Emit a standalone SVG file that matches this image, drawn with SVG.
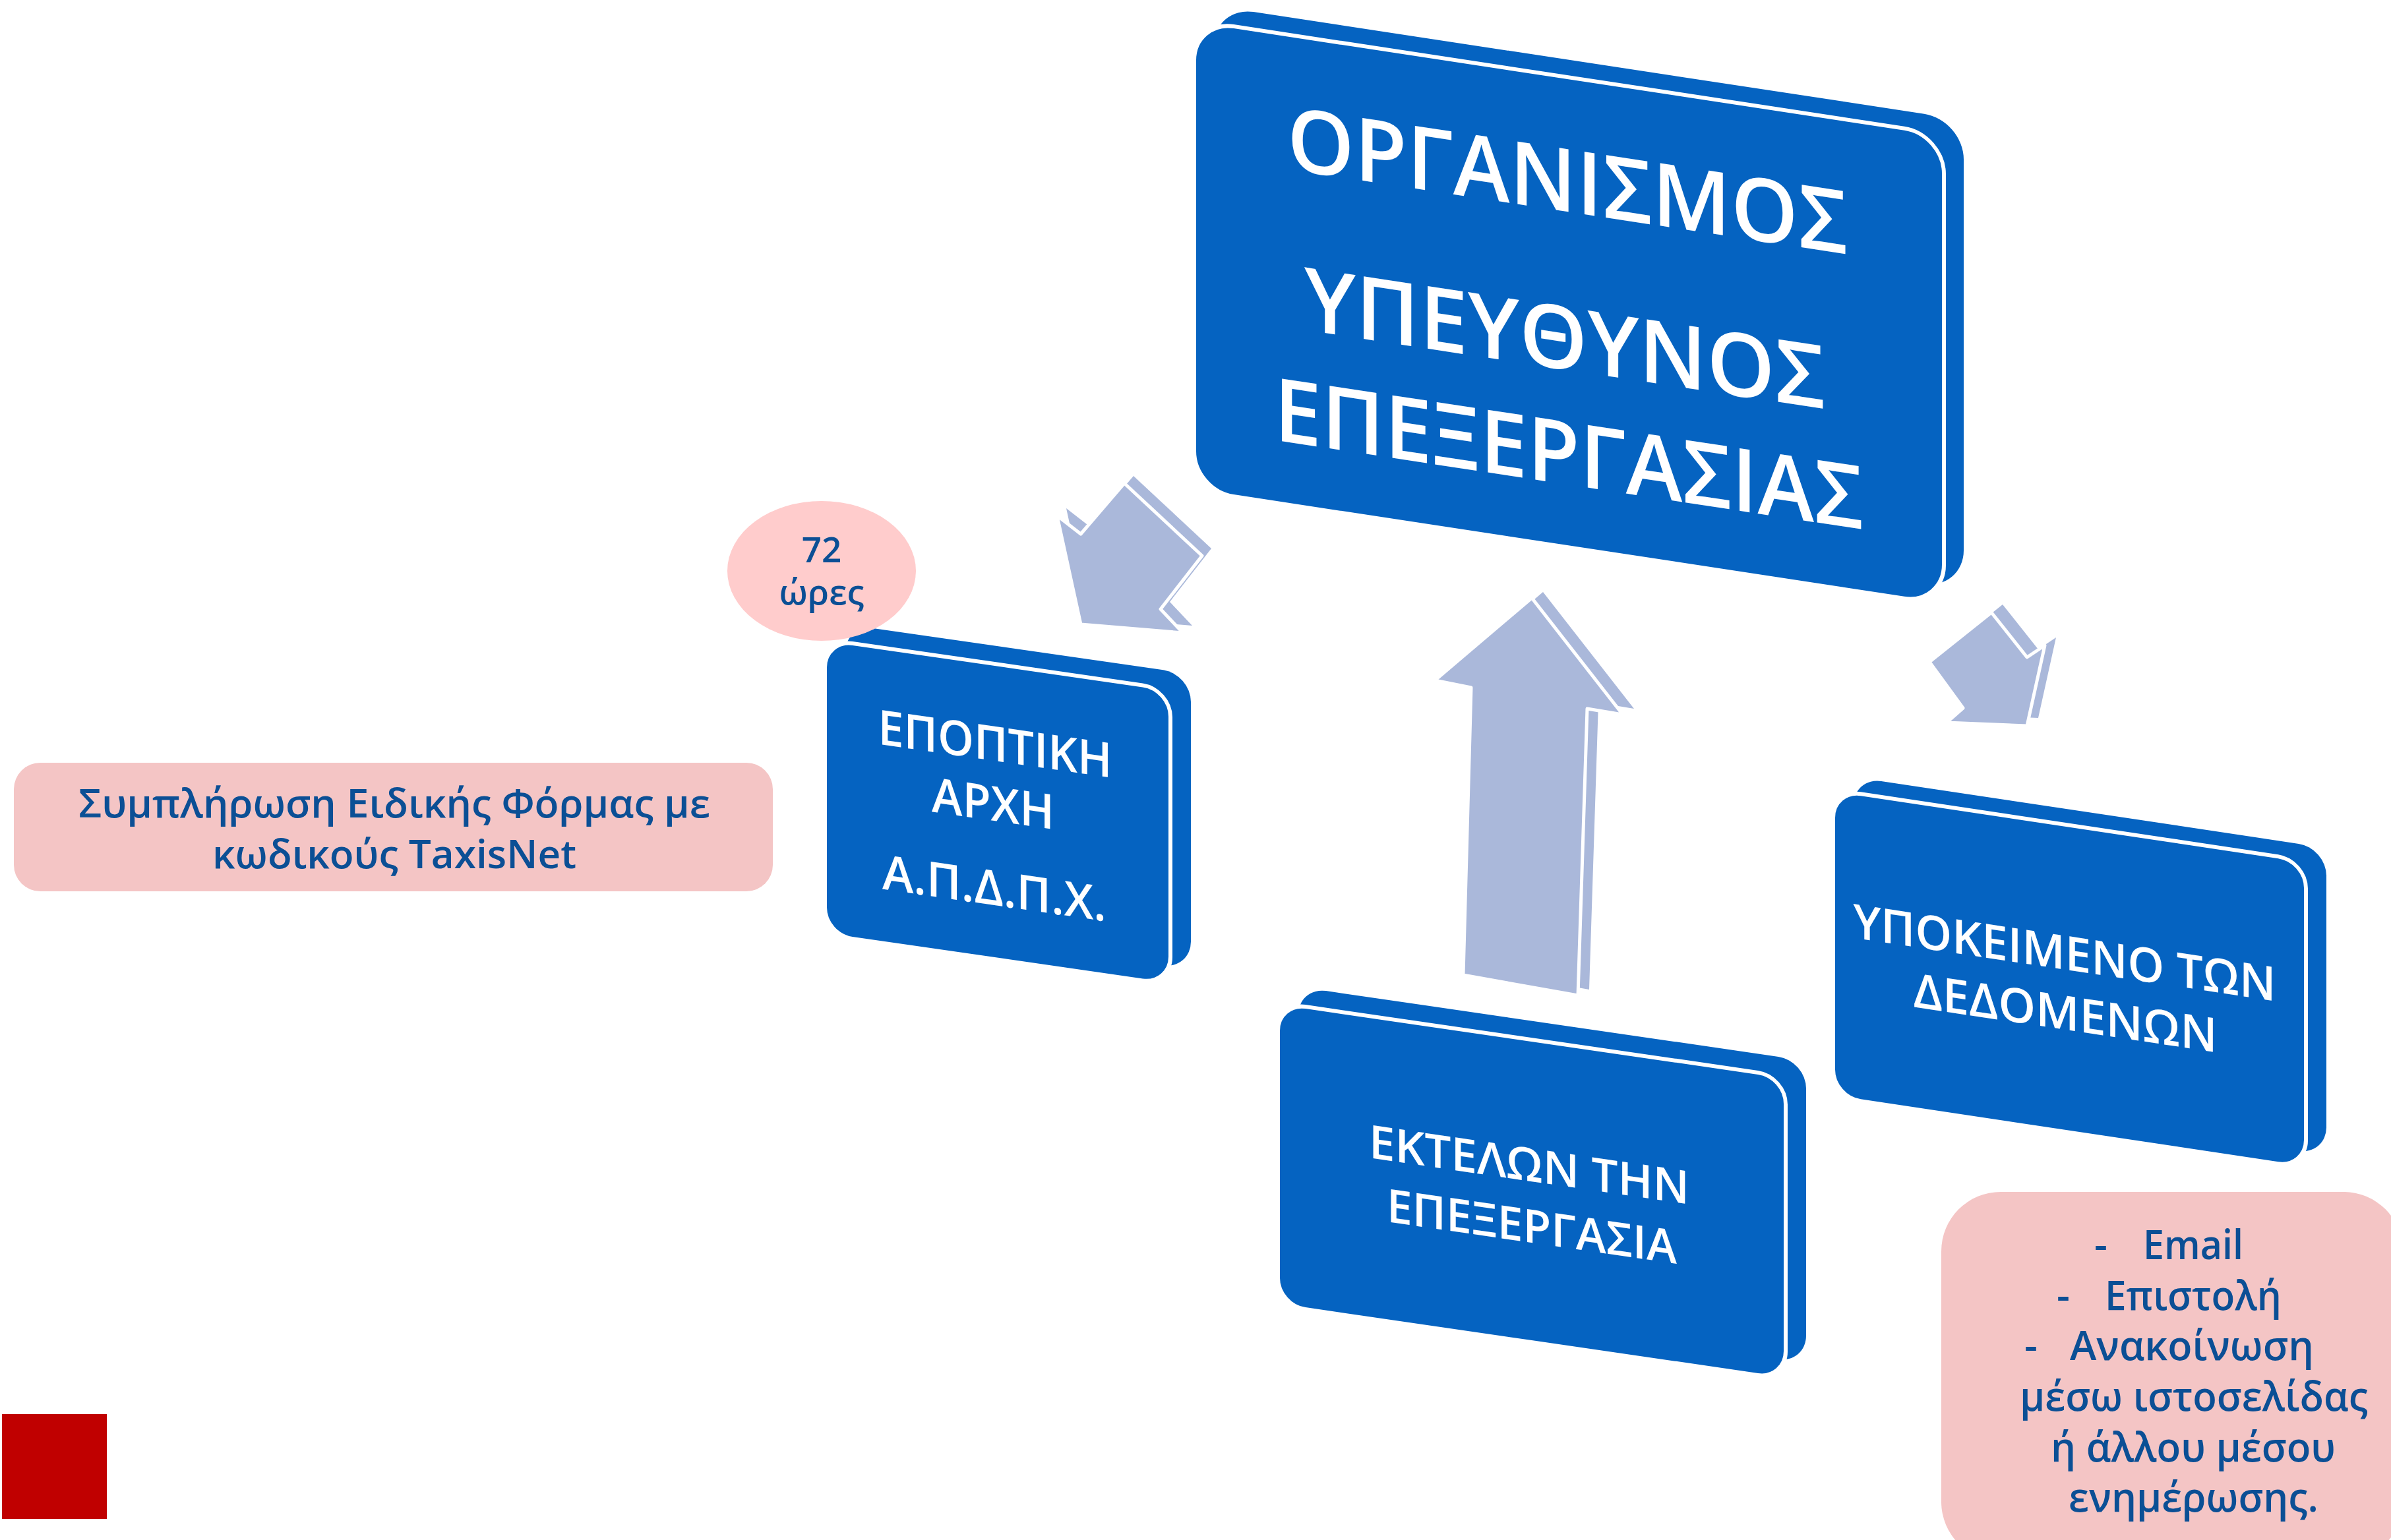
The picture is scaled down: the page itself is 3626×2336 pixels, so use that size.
<svg xmlns="http://www.w3.org/2000/svg" width="3626" height="2336" viewBox="0 0 3626 2336">
<style>
.slab{fill:#0563C1}
.face{fill:#0563C1;stroke:#ffffff;stroke-width:6}
.lbl{font-family:"Open Sans","Noto Sans",sans-serif;fill:#ffffff;text-anchor:middle;font-weight:600}
.ar{fill:#AAB8DA}
.arf{fill:#AAB8DA;stroke:#ffffff;stroke-width:5;stroke-linejoin:round}
.note{font-family:"Open Sans","Noto Sans",sans-serif;fill:#0B4F95;font-weight:600}
.mid{text-anchor:middle}
</style>
<rect width="3626" height="2336" fill="#ffffff"/>

<g id="organismos" transform="matrix(1,0.152,0,1,1811,31)">
  <rect class="slab" x="30" y="-26.6" width="1137" height="713" rx="60"/>
  <rect class="face" x="0" y="0" width="1137" height="713" rx="60"/>
  <text class="lbl" font-size="133" x="566" y="204" textLength="850" lengthAdjust="spacingAndGlyphs">ΟΡΓΑΝΙΣΜΟΣ</text>
  <text class="lbl" font-size="133" x="562" y="444" textLength="790" lengthAdjust="spacingAndGlyphs">ΥΠΕΥΘΥΝΟΣ</text>
  <text class="lbl" font-size="133" x="568" y="618" textLength="894" lengthAdjust="spacingAndGlyphs">ΕΠΕΞΕΡΓΑΣΙΑΣ</text>
</g>

<g id="epoptiki" transform="matrix(1,0.144,0,1,1251,970)">
  <rect class="slab" x="31" y="-27.5" width="524" height="448" rx="42"/>
  <rect class="face" x="0" y="0" width="524" height="448" rx="42"/>
  <text class="lbl" font-size="73" x="258" y="147" textLength="355" lengthAdjust="spacingAndGlyphs">ΕΠΟΠΤΙΚΗ</text>
  <text class="lbl" font-size="73" x="255" y="238" textLength="186" lengthAdjust="spacingAndGlyphs">ΑΡΧΗ</text>
  <text class="lbl" font-size="73" x="257" y="366" textLength="340" lengthAdjust="spacingAndGlyphs">Α.Π.Δ.Π.Χ.</text>
</g>

<g id="ektelon" transform="matrix(1,0.1455,0,1,1938,1521)">
  <rect class="slab" x="31" y="-28.5" width="770" height="459" rx="42"/>
  <rect class="face" x="0" y="0" width="770" height="459" rx="42"/>
  <text class="lbl" font-size="70" x="381" y="215" textLength="486" lengthAdjust="spacingAndGlyphs">ΕΚΤΕΛΩΝ ΤΗΝ</text>
  <text class="lbl" font-size="70" x="385" y="308" textLength="440" lengthAdjust="spacingAndGlyphs">ΕΠΕΞΕΡΓΑΣΙΑ</text>
</g>

<g id="ypokeimeno" transform="matrix(1,0.15,0,1,2780,1198)">
  <rect class="slab" x="31" y="-24" width="717" height="466" rx="42"/>
  <rect class="face" x="0" y="0" width="717" height="466" rx="42"/>
  <text class="lbl" font-size="72" x="351" y="220" textLength="641" lengthAdjust="spacingAndGlyphs">ΥΠΟΚΕΙΜΕΝΟ ΤΩΝ</text>
  <text class="lbl" font-size="72" x="352" y="311" textLength="461" lengthAdjust="spacingAndGlyphs">ΔΕΔΟΜΕΝΩΝ</text>
</g>

<g id="connectors">
  <g id="arrow-to-epoptiki">
    <polygon class="ar" transform="translate(14,-11)" points="1639,947 1603,782 1639,810 1705,733 1823,843 1760,924 1794,960"/>
    <polygon class="arf" points="1639,947 1603,782 1639,810 1705,733 1823,843 1760,924 1794,960"/>
  </g>
  <g id="arrow-from-ektelon">
    <polygon class="ar" transform="translate(17,-9)" points="2323,907 2176,1032 2231,1043 2219,1479 2393,1510 2407,1075 2461,1084"/>
    <polygon class="arf" points="2323,907 2176,1032 2231,1043 2219,1479 2393,1510 2407,1075 2461,1084"/>
  </g>
  <g id="arrow-to-ypokeimeno">
    <polygon class="ar" transform="translate(17,-12)" points="2926,1004 3020,929 3074,997 3101,979 3074,1101 2952,1096 2977,1074"/>
    <polygon class="arf" points="2926,1004 3020,929 3074,997 3101,979 3074,1101 2952,1096 2977,1074"/>
  </g>
</g>

<g id="note-taxisnet">
  <rect x="21" y="1157" width="1151" height="195" rx="40" fill="#F4C5C5"/>
  <text class="note mid" font-size="60" x="598" y="1240" textLength="958" lengthAdjust="spacingAndGlyphs">Συμπλήρωση Ειδικής Φόρμας με</text>
  <text class="note mid" font-size="60" x="598" y="1317" textLength="552" lengthAdjust="spacingAndGlyphs">κωδικούς TaxisNet</text>
</g>

<g id="note-72">
  <ellipse cx="1246" cy="866" rx="143" ry="106" fill="#FFCCCC"/>
  <text class="note mid" font-size="53" font-weight="500" x="1246" y="853">72</text>
  <text class="note mid" font-size="53" font-weight="500" x="1246" y="917">ώρες</text>
</g>

<g id="note-channels">
  <rect x="2944" y="1808" width="700" height="560" rx="90" fill="#F4C5C5"/>
  <text class="note" font-size="62" x="3176" y="1910">-</text>
  <text class="note" font-size="62" x="3250" y="1910" textLength="152" lengthAdjust="spacingAndGlyphs">Email</text>
  <text class="note" font-size="62" x="3119" y="1987">-</text>
  <text class="note" font-size="62" x="3192" y="1987" textLength="268" lengthAdjust="spacingAndGlyphs">Επιστολή</text>
  <text class="note" font-size="62" x="3070" y="2063">-</text>
  <text class="note" font-size="62" x="3139" y="2063" textLength="370" lengthAdjust="spacingAndGlyphs">Ανακοίνωση</text>
  <text class="note" font-size="62" x="3063" y="2140" textLength="528" lengthAdjust="spacingAndGlyphs">μέσω ιστοσελίδας</text>
  <text class="note" font-size="62" x="3110" y="2217" textLength="432" lengthAdjust="spacingAndGlyphs">ή άλλου μέσου</text>
  <text class="note" font-size="62" x="3137" y="2293" textLength="379" lengthAdjust="spacingAndGlyphs">ενημέρωσης.</text>
</g>

<rect id="red-square" x="3" y="2145" width="159" height="159" fill="#C00000"/>
</svg>
